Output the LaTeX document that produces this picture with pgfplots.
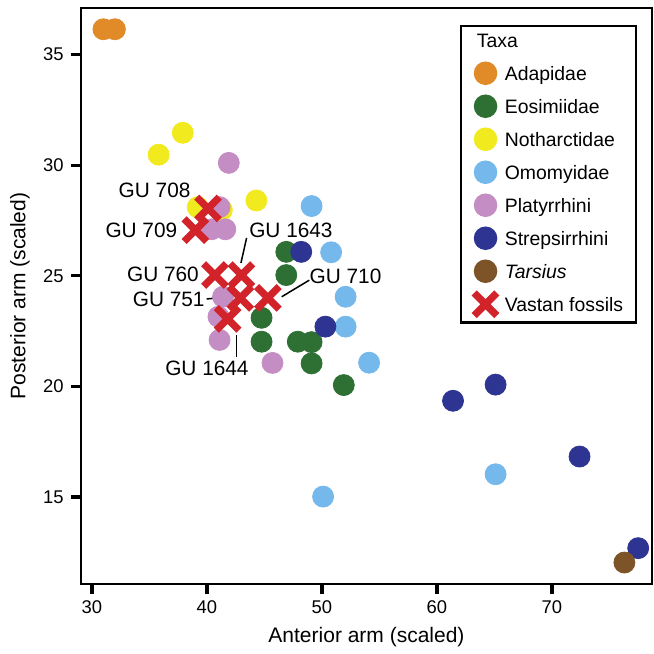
\documentclass[border=0pt]{standalone}
\usepackage{fontspec}
\setmainfont{Liberation Sans}
\usepackage{pgfplots}
\pgfplotsset{compat=1.18}

\definecolor{cadap}{RGB}{224,138,40}
\definecolor{ceosi}{RGB}{46,112,52}
\definecolor{cnoth}{RGB}{240,234,30}
\definecolor{comom}{RGB}{116,184,236}
\definecolor{cplat}{RGB}{196,142,196}
\definecolor{cstre}{RGB}{46,52,146}
\definecolor{ctars}{RGB}{124,84,40}
\definecolor{cvast}{RGB}{210,35,42}

\begin{document}
\begin{tikzpicture}[font=\fontsize{10.4bp}{12bp}\selectfont]
\begin{axis}[
  at={(0,0)}, anchor=south west,
  scale only axis, width=285.5bp, height=288bp,
  xmin=29.05, xmax=78.7, ymin=11.07, ymax=37.1,
  xtick={30,40,...,70}, ytick={15,20,...,35},
  tick pos=left, tick align=outside, major tick length=5bp,
  xtick style={line width=1.6bp, draw=black},
  ytick style={line width=1.6bp, draw=black},
  axis line style={line width=1.2bp},
  ticklabel style={font=\fontsize{9.2bp}{11bp}\selectfont, inner sep=0pt},
  xticklabel shift=3bp, yticklabel shift=3.5bp,
  /pgf/number format/assume math mode=true,
  xlabel={Anterior arm (scaled)},
  ylabel={Posterior arm (scaled)},
  label style={font=\fontsize{10.5bp}{12bp}\selectfont},
  xlabel style={at={(axis description cs:0.5,-0.0925)}, anchor=center},
  ylabel style={at={(axis description cs:-0.1068,0.5)}, anchor=center},
  legend style={at={(axis description cs:0.6637,0.9705)}, anchor=north west,
    draw=black, line width=1.25bp, inner xsep=6.5bp, inner ysep=3.5bp,
    row sep={16.5bp,between origins}, column sep=4bp,
    nodes={inner sep=0pt, text height=7bp, text depth=0pt,
      font=\fontsize{9.7bp}{11bp}\selectfont}},
  legend cell align=left,
  legend image code/.code={\draw[#1] plot coordinates {(0bp,0bp)};},
  clip=false,
]
\addlegendimage{empty legend}
\addlegendentry{\hspace*{-14bp}Taxa}

% Adapidae
\addplot[only marks, mark=*, mark size=5.25bp, color=cadap, mark options={draw=none}]
  coordinates {(31.0,36.14) (32.0,36.14)};
\addlegendentry{Adapidae}

% Eosimiidae
\addplot[only marks, mark=*, mark size=5.25bp, color=ceosi, mark options={draw=none}]
  coordinates {(46.9,26.08) (46.9,25.03) (44.75,23.1) (44.75,22.02)
               (47.9,22.02) (49.1,22.0) (49.1,21.04) (51.9,20.06)};
\addlegendentry{Eosimiidae}

% Notharctidae
\addplot[only marks, mark=*, mark size=5.25bp, color=cnoth, mark options={draw=none}]
  coordinates {(37.9,31.46) (35.8,30.47) (44.3,28.4) (39.2,28.1) (41.3,27.97)};
\addlegendentry{Notharctidae}

% Omomyidae
\addplot[only marks, mark=*, mark size=5.25bp, color=comom, mark options={draw=none}]
  coordinates {(49.1,28.15) (50.8,26.06) (52.06,24.05) (52.06,22.7)
               (54.1,21.07) (65.1,16.03) (50.1,15.02)};
\addlegendentry{Omomyidae}

% Platyrrhini
\addplot[only marks, mark=*, mark size=5.25bp, color=cplat, mark options={draw=none}]
  coordinates {(41.9,30.1) (41.1,28.1) (40.4,27.1) (41.6,27.1)
               (41.4,24.05) (41.0,23.15) (41.1,22.1) (45.7,21.06)};
\addlegendentry{Platyrrhini}

% Strepsirrhini
\addplot[only marks, mark=*, mark size=5.25bp, color=cstre, mark options={draw=none}]
  coordinates {(48.2,26.08) (50.3,22.7) (61.4,19.35) (65.1,20.08)
               (72.4,16.83) (77.5,12.69)};
\addlegendentry{Strepsirrhini}

% Tarsius
\addplot[only marks, mark=*, mark size=5.25bp, color=ctars, mark options={draw=none}]
  coordinates {(76.3,12.04)};
\addlegendentry{\textit{Tarsius}}

% Vastan fossils
\addplot[only marks, mark=x, mark size=8bp, color=cvast, mark options={line width=3.6bp}]
  coordinates {(40.1,28.04) (39.0,27.06) (40.7,25.03) (43.0,25.03)
               (42.9,24.0) (45.3,24.0) (41.8,23.05)};
\addlegendentry{Vastan fossils}

% specimen labels
\begin{scope}[every node/.style={inner sep=0pt, font=\fontsize{10.4bp}{12bp}\selectfont}]
\node[anchor=east] at (axis cs:38.6,28.87) {GU 708};
\node[anchor=east] at (axis cs:37.45,27.06) {GU 709};
\node[anchor=west] at (axis cs:43.65,27.06) {GU 1643};
\node[anchor=east] at (axis cs:39.33,25.08) {GU 760};
\node[anchor=east] at (axis cs:39.83,23.93) {GU 751};
\node[anchor=west] at (axis cs:48.9,24.96) {GU 710};
\node[anchor=center] at (axis cs:40.0,20.82) {GU 1644};
\end{scope}
\draw[line width=0.75bp] (axis cs:42.96,25.58) -- (axis cs:43.45,26.71);
\draw[line width=0.75bp] (axis cs:39.97,23.95) -- (axis cs:41.91,24.05);
\draw[line width=0.75bp] (axis cs:46.5,24.05) -- (axis cs:48.9,24.8);
\draw[line width=0.75bp] (axis cs:42.58,22.32) -- (axis cs:42.58,21.34);
\end{axis}
\pgfresetboundingbox
\path (-40.5bp,-35bp) rectangle (286.5bp,292bp);
\end{tikzpicture}
\end{document}
